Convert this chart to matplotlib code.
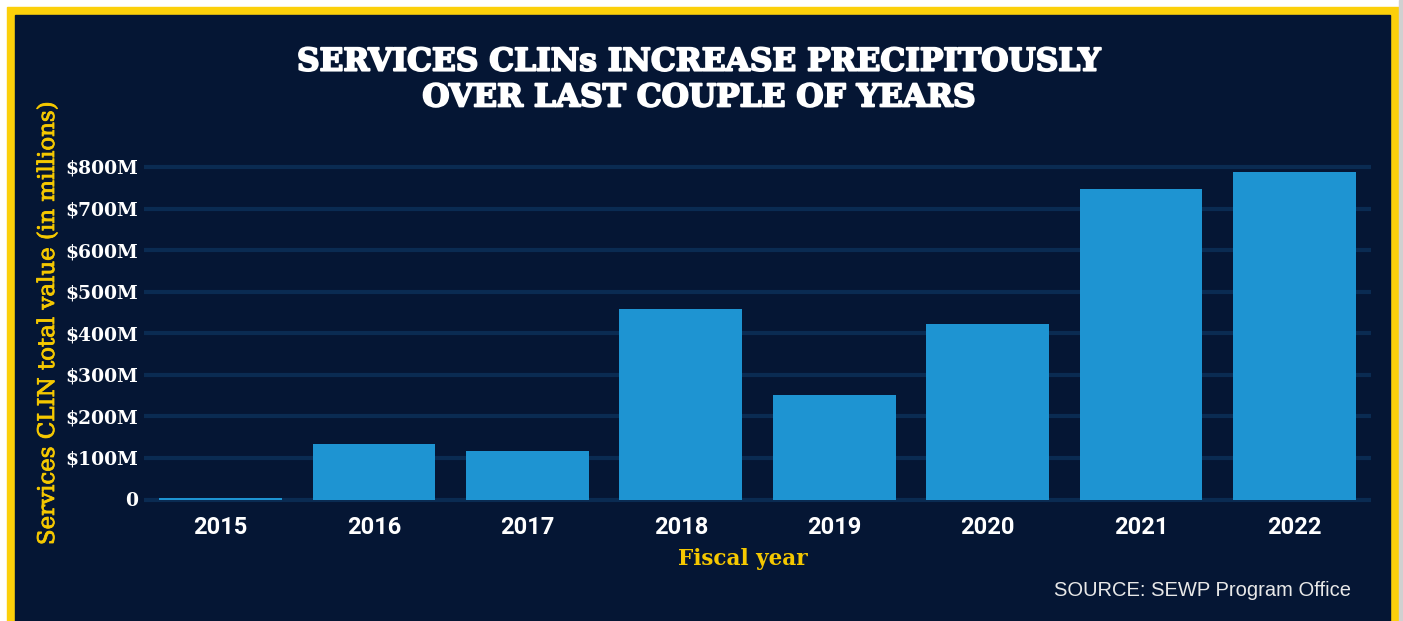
import matplotlib.pyplot as plt
import matplotlib.patheffects as pe
from matplotlib.patches import Rectangle

# services CLIN totals per fiscal year, $ millions
years = ['2015', '2016', '2017', '2018', '2019', '2020', '2021', '2022']
values = [4, 133, 117, 458, 251, 422, 746, 787]
yticks = [0, 100, 200, 300, 400, 500, 600, 700, 800]
ytick_labels = ['0', '$100M', '$200M', '$300M', '$400M', '$500M', '$600M', '$700M', '$800M']

navy = '#051634'
grid_c = '#0a2b52'
bar_c = '#1e94d2'
gold = '#fcd00a'
gold_txt = '#f5c800'

W, H = 1403, 621
fig = plt.figure(figsize=(W / 100, H / 100), dpi=100)
fig.patch.set_facecolor('white')

# yellow frame + navy panel
fig.patches.append(Rectangle((7 / W, 0), (1399 - 7) / W, 1 - 7 / H,
                             transform=fig.transFigure, color=gold, zorder=-10))
fig.patches.append(Rectangle((15 / W, 0), (1390 - 15) / W, 1 - 15 / H,
                             transform=fig.transFigure, color=navy, zorder=-9))
fig.patches.append(Rectangle((1399 / W, 0), 4 / W, 1,
                             transform=fig.transFigure, color='#d0d0d0', zorder=-10))

# axes box: pixel 144..1371 horizontally, 160..505 vertically
ax = fig.add_axes([144 / W, 1 - 505 / H, (1371 - 144) / W, (505 - 160) / H])
ax.set_zorder(5)
ax.set_facecolor('none')
px = (499.5 - 167) / 800  # pixels per $M
ax.set_ylim(-(505 - 499.5) / px, 800 + (167 - 160) / px)
ax.set_xlim(-0.5, 7.5)

for t in yticks:
    ax.axhline(t, color=grid_c, lw=3.0, zorder=1)
ax.bar(range(len(years)), values, width=0.8, color=bar_c, zorder=2)

for s in ax.spines.values():
    s.set_visible(False)
ax.tick_params(length=0)
ax.set_yticks(yticks)
ax.set_yticklabels(ytick_labels, family='DejaVu Serif', fontweight='bold',
                   fontsize=13.5, color='white')
ax.tick_params(axis='y', pad=4)
ax.set_xticks(range(len(years)))
ax.set_xticklabels(years, family='Roboto', fontweight='bold', fontsize=17,
                   color='white')
ax.tick_params(axis='x', pad=8)

fig.text(743 / W, 1 - 559 / H, 'Fiscal year', family='DejaVu Serif',
         fontweight='bold', fontsize=15.5, color=gold_txt, ha='center', va='center')
fig.text(48 / W, 1 - 324 / H, 'Services CLIN total value (in millions)',
         family='DejaVu Serif', fontsize=16.5, color=gold_txt, rotation=90,
         ha='center', va='center',
         path_effects=[pe.withStroke(linewidth=0.6, foreground=gold_txt)])

title = fig.text(699 / W, 1 - 80 / H,
                 'SERVICES CLINs INCREASE PRECIPITOUSLY\nOVER LAST COUPLE OF YEARS',
                 family='DejaVu Serif', fontweight='bold', fontsize=22.5,
                 color='white', ha='center', va='center', linespacing=1.2)
title.set_path_effects([pe.withStroke(linewidth=1.4, foreground='white')])

fig.text(1351 / W, 1 - 590 / H, 'SOURCE: SEWP Program Office',
         family='Liberation Sans', fontsize=14.5, color='#e8e8e8',
         ha='right', va='center')

fig.savefig('out.png', dpi=100, facecolor=fig.get_facecolor())
